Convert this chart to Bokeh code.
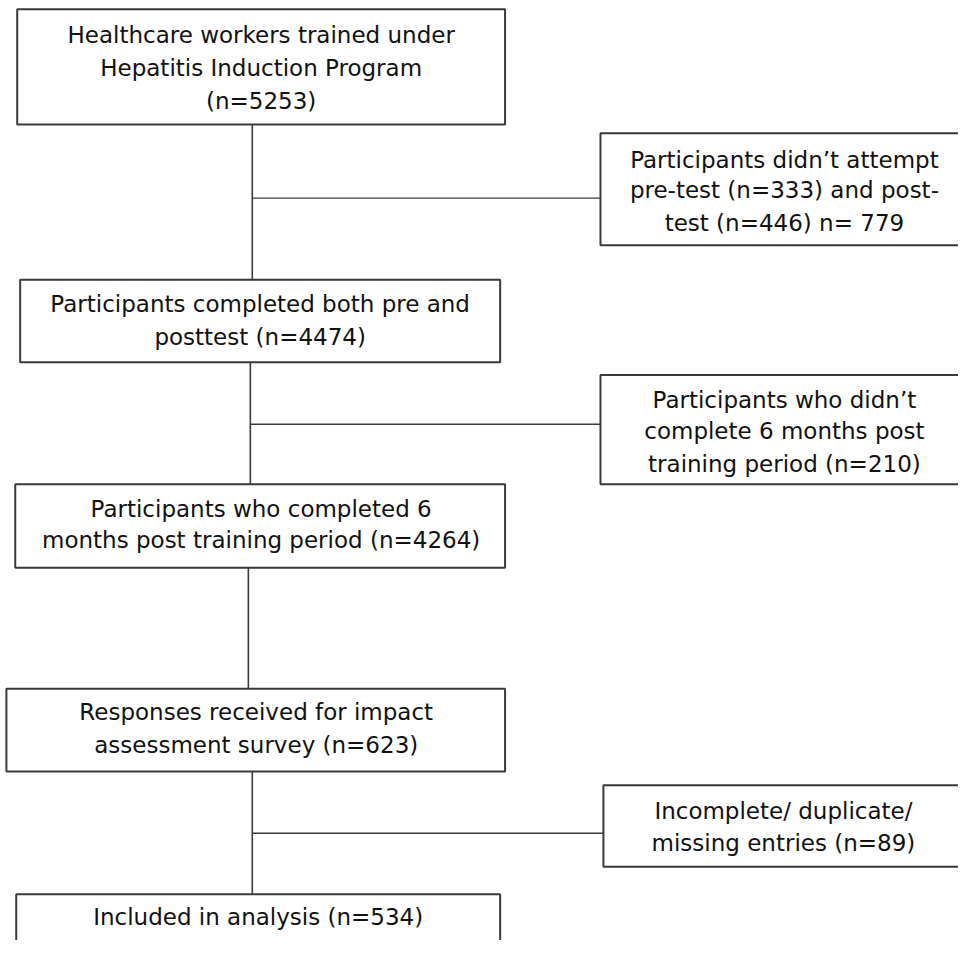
from bokeh.plotting import figure
from bokeh.models import Range1d
from bokeh.core.properties import value
from bokeh.embed import file_html
from bokeh.resources import INLINE

# ---- data: flow steps and their counts ----
main_labels = [
    ["Healthcare workers trained under", "Hepatitis Induction Program", "(n={n})"],
    ["Participants completed both pre and", "posttest (n={n})"],
    ["Participants who completed 6", "months post training period (n={n})"],
    ["Responses received for impact", "assessment survey (n={n})"],
    ["Included in analysis (n={n})"],
]
main_counts = [5253, 4474, 4264, 623, 534]

excl_labels = [
    ["Participants didn\u2019t attempt", "pre-test (n=333) and post-", "test (n=446) n= {n}"],
    ["Participants who didn\u2019t", "complete 6 months post", "training period (n={n})"],
    ["Incomplete/ duplicate/", "missing entries (n={n})"],
]
excl_counts = [779, 210, 89]

# ---- layout (diagram coordinates) ----
main_box = [  # left, right, top, bottom
    (17, 513, 9, 126),
    (20, 508, 284, 368),
    (15, 513, 492, 577),
    (6, 513, 700, 784),
    (16, 508, 909, 975),
]
main_text_x = [265, 264, 265, 260, 262]
main_text_y = [[35, 69, 102], [309, 342], [517, 549], [724, 757], [932]]

excl_box = [
    (610, 990, 135, 249),
    (610, 990, 381, 492),
    (613, 990, 798, 881),
]
excl_text_x = [797, 797, 796]
excl_text_y = [[162, 193, 226], [406, 438, 471], [824, 857]]

FONT = "DejaVu Sans"
SIZE = "23px"

spine_x = [256, 254, 252, 256]
branch_y = [201, 431, None, 847]

p = figure(width=958, height=940, output_backend="svg", toolbar_location=None,
           x_range=Range1d(0, 974), y_range=Range1d(956, 0),
           min_border=0)
p.axis.visible = False
p.grid.visible = False
p.outline_line_color = None
p.background_fill_color = "white"
p.border_fill_color = "white"

edge = "#3a3a3a"

# connectors
for i in range(4):
    x = spine_x[i]
    top = main_box[i][3]
    bot = main_box[i + 1][2]
    p.segment(x0=[x], y0=[top], x1=[x], y1=[bot], line_color=edge, line_width=1.6)
ei = 0
for i in range(4):
    if branch_y[i] is None:
        continue
    p.segment(x0=[spine_x[i]], y0=[branch_y[i]], x1=[excl_box[ei][0]], y1=[branch_y[i]],
              line_color=edge, line_width=1.4)
    ei += 1

def draw_box(b):
    l, r, t, bt = b
    p.quad(left=[l], right=[r], top=[t], bottom=[bt], fill_color="white",
           line_color=edge, line_width=2)

def draw_text(lines, n, x, ys):
    for ln, y in zip(lines, ys):
        p.text(x=[x], y=[y], text=[ln.format(n=n)], text_align="center",
               text_baseline="middle", text_font=value(FONT), text_font_size=SIZE,
               text_color="#111111")

for i in range(5):
    draw_box(main_box[i])
    draw_text(main_labels[i], main_counts[i], main_text_x[i], main_text_y[i])
for i in range(3):
    draw_box(excl_box[i])
    draw_text(excl_labels[i], excl_counts[i], excl_text_x[i], excl_text_y[i])

open("out.html", "w").write(file_html(p, INLINE))
